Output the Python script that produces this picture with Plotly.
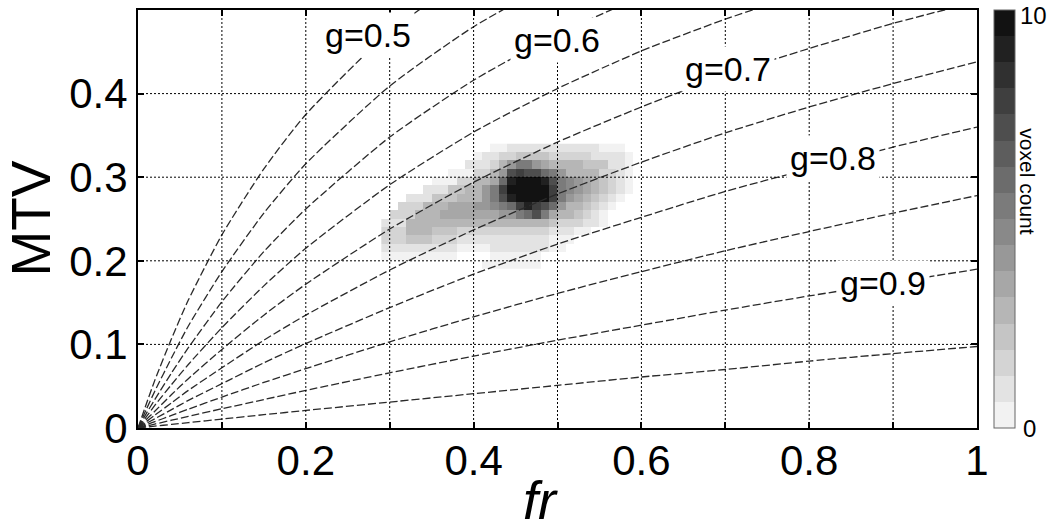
import plotly.graph_objects as go

# ---------------- data ----------------
# 2D histogram (voxel count), bins of 0.01 x 0.01
HIST_FR = [0.295, 0.305, 0.315, 0.325, 0.335, 0.345, 0.355, 0.365, 0.375, 0.385, 0.395,
           0.405, 0.415, 0.425, 0.435, 0.445, 0.455, 0.465, 0.475, 0.485, 0.495,
           0.505, 0.515, 0.525, 0.535, 0.545, 0.555, 0.565, 0.575, 0.585, 0.595]
HIST_MTV = [0.195, 0.205, 0.215, 0.225, 0.235, 0.245, 0.255, 0.265, 0.275, 0.285,
            0.295, 0.305, 0.315, 0.325, 0.335]
HIST_COUNT = [
    [0, 0, 0, 0, 0, 0, 0, 0, 0, 0, 0, 0, 0.2, 0.2, 0.2, 0.2, 0.2, 0.2, 0.2, 0, 0, 0, 0, 0, 0, 0, 0, 0, 0, 0, 0],
    [0.5, 0.5, 0.5, 0.5, 0.5, 0.5, 0.5, 0.5, 0.5, 0, 0, 0, 0, 0.4, 0.4, 0.4, 0.4, 0.4, 0.4, 0, 0, 0, 0, 0, 0, 0, 0, 0, 0, 0, 0],
    [1, 1, 1, 1, 1, 1, 0.7, 0.7, 0.7, 0.5, 0.5, 0.5, 0.5, 0.7, 0.7, 0.7, 0.7, 0.7, 0.7, 0.7, 0.3, 0.3, 0, 0, 0, 0, 0, 0, 0, 0, 0],
    [1.5, 1.5, 1.5, 2, 2, 2, 1.5, 1.5, 1.5, 1, 1, 1, 1, 1, 1, 1, 1, 1, 1, 1, 0.5, 0.5, 0.5, 0, 0, 0, 0, 0, 0, 0, 0],
    [1.5, 1.5, 1.5, 2.5, 2.5, 2.5, 2, 2, 2, 1.5, 1.5, 1.5, 1.5, 1.5, 1.5, 1.5, 1.5, 1.5, 1.5, 1.5, 1, 1, 1, 0.5, 0.5, 0, 0, 0, 0, 0, 0],
    [1, 1, 1, 2.5, 2.5, 2.5, 3, 3, 3, 3, 3, 3, 2.5, 2.5, 2.5, 2.5, 2.5, 2.5, 3, 2.5, 2, 1.5, 1.5, 1.5, 1, 1, 0.5, 0, 0, 0, 0],
    [0, 1.5, 1.5, 1.5, 3, 3, 3, 3.5, 3.5, 3.5, 3.5, 3.5, 3.5, 3.5, 4, 4, 5, 6, 7, 5, 3.5, 3, 2.5, 2, 1.5, 1, 0.5, 0, 0, 0, 0],
    [0, 0, 1.5, 1.5, 1.5, 2.5, 2.5, 2.5, 3.5, 3.5, 3.5, 4, 4, 4.5, 5, 6, 8, 9, 8, 7, 6, 4, 3, 2.5, 2, 1.5, 1, 0.5, 0, 0, 0],
    [0, 0, 0, 1, 1, 1, 2, 2, 2, 3, 3, 3, 4, 5, 7, 9, 10, 10, 10, 10, 8, 5, 4, 3.5, 3, 2, 1.5, 1, 0.5, 0, 0],
    [0, 0, 0, 0, 0, 1, 1, 1, 2, 2, 3, 3, 4, 5, 8, 10, 10, 10, 10, 10, 8, 5.5, 4.5, 4, 3.5, 2.5, 2, 1.5, 1, 0.5, 0],
    [0, 0, 0, 0, 0, 0, 0.5, 0.5, 0.5, 1.5, 1.5, 2.5, 2.5, 3.5, 6, 9, 10, 10, 10, 9, 7, 5.5, 4.5, 4, 3.5, 2.5, 2, 1.5, 1, 0.5, 0],
    [0, 0, 0, 0, 0, 0, 0, 0, 0.5, 0.5, 0.5, 1.5, 1.5, 2.5, 4, 7, 8, 7, 7, 6, 5, 4, 3, 3, 2.5, 2.5, 1.5, 1.5, 1, 0.5, 0],
    [0, 0, 0, 0, 0, 0, 0, 0, 0, 0, 1, 1, 1, 1.5, 2.5, 4, 5, 5, 4, 3.5, 3, 2.5, 2.5, 2.5, 2, 2, 2, 1, 1, 0.5, 0],
    [0, 0, 0, 0, 0, 0, 0, 0, 0, 0, 0, 0.5, 1, 1, 1.5, 1.5, 2, 2, 2, 2, 1.5, 1.5, 1.5, 1.5, 1.5, 1, 1, 1, 1, 0.5, 0],
    [0, 0, 0, 0, 0, 0, 0, 0, 0, 0, 0, 0, 0, 0.5, 0.5, 1, 1, 1, 1, 1, 1, 1, 1, 1, 1, 1, 0.5, 0.5, 0.5, 0, 0],
]

# iso g-ratio curves, MTV read at these fr positions
CURVE_FR = [0, 0.01, 0.02, 0.04, 0.06, 0.1, 0.15, 0.2, 0.3, 0.4, 0.5, 0.6, 0.7, 0.8, 0.9, 1.0]
MTV_G050 = [0, 0.029, 0.057, 0.107, 0.153, 0.231, 0.310, 0.375, 0.474, 0.545]
MTV_G055 = [0, 0.0225, 0.044, 0.084, 0.122, 0.187, 0.257, 0.316, 0.409, 0.480, 0.536]
MTV_G060 = [0, 0.0175, 0.034, 0.066, 0.096, 0.151, 0.211, 0.262, 0.348, 0.416, 0.471, 0.516]
MTV_G065 = [0, 0.0135, 0.027, 0.052, 0.076, 0.120, 0.170, 0.215, 0.291, 0.354, 0.406, 0.451, 0.489, 0.522]
MTV_G070 = [0, 0.0103, 0.020, 0.040, 0.059, 0.094, 0.135, 0.172, 0.238, 0.294, 0.342, 0.384, 0.422, 0.454, 0.484, 0.510]
MTV_G075 = [0, 0.0077, 0.0153, 0.030, 0.045, 0.072, 0.105, 0.135, 0.189, 0.237, 0.280, 0.318, 0.353, 0.384, 0.412, 0.438]
MTV_G080 = [0, 0.0056, 0.011, 0.022, 0.033, 0.053, 0.078, 0.101, 0.144, 0.184, 0.220, 0.252, 0.283, 0.310, 0.336, 0.360]
MTV_G085 = [0, 0.0038, 0.0076, 0.015, 0.0225, 0.037, 0.0545, 0.071, 0.103, 0.133, 0.161, 0.187, 0.212, 0.235, 0.257, 0.278]
MTV_G090 = [0, 0.0023, 0.0047, 0.0093, 0.0139, 0.023, 0.034, 0.045, 0.066, 0.086, 0.105, 0.123, 0.141, 0.158, 0.174, 0.190]
MTV_G095 = [0, 0.0011, 0.0022, 0.0043, 0.0064, 0.0107, 0.0159, 0.021, 0.031, 0.041, 0.051, 0.061, 0.070, 0.080, 0.089, 0.0975]
CURVES = [MTV_G050, MTV_G055, MTV_G060, MTV_G065, MTV_G070,
          MTV_G075, MTV_G080, MTV_G085, MTV_G090, MTV_G095]

LABEL_TEXT = ["g=0.5", "g=0.6", "g=0.7", "g=0.8", "g=0.9"]
LABEL_FR = [0.274, 0.499, 0.703, 0.828, 0.888]
LABEL_MTV = [0.470, 0.464, 0.430, 0.323, 0.174]

X_TICKS = [0, 0.2, 0.4, 0.6, 0.8, 1]
X_TICKTEXT = ["0", "0.2", "0.4", "0.6", "0.8", "1"]
Y_TICKS = [0, 0.1, 0.2, 0.3, 0.4]
Y_TICKTEXT = ["0", "0.1", "0.2", "0.3", "0.4"]
GRID_FR = [0.1, 0.2, 0.3, 0.4, 0.5, 0.6, 0.7, 0.8, 0.9]
GRID_MTV = [0.1, 0.2, 0.3, 0.4]
CBAR_MIN, CBAR_MAX = 0, 10

# ---------------- style ----------------
FONT = "Liberation Sans, Arial, Helvetica, sans-serif"
N_BANDS = 16
colorscale = []
for i in range(N_BANDS):
    v = int(round(242 - i * (242 - 18) / (N_BANDS - 1)))
    c = f"rgb({v},{v},{v})"
    colorscale.append([i / N_BANDS, c])
    colorscale.append([(i + 1) / N_BANDS, c])

z = [[(val if val > 0 else None) for val in row] for row in HIST_COUNT]

fig = go.Figure()
fig.add_trace(go.Heatmap(
    x=HIST_FR, y=HIST_MTV, z=z, zmin=CBAR_MIN, zmax=CBAR_MAX, colorscale=colorscale,
    zsmooth=False, hoverongaps=False,
    colorbar=dict(
        x=1.0203, xanchor="left", xpad=0, y=0.5, yanchor="middle",
        len=1.0, lenmode="fraction", ypad=0, thickness=21,
        outlinecolor="#666", outlinewidth=1,
        showticklabels=False, ticks="",
    ),
))

for mtv in CURVES:
    fig.add_trace(go.Scatter(
        x=CURVE_FR[:len(mtv)], y=mtv, mode="lines",
        line=dict(color="#2a2a2a", width=1.3, dash="8px,3px", shape="spline", smoothing=0.6),
        hoverinfo="skip", showlegend=False,
    ))

for v in GRID_FR:
    fig.add_shape(type="line", xref="x", yref="paper", x0=v, x1=v, y0=0, y1=1,
                  layer="above", line=dict(color="black", width=1, dash="2px,2px"))
for v in GRID_MTV:
    fig.add_shape(type="line", xref="paper", yref="y", x0=0, x1=1, y0=v, y1=v,
                  layer="above", line=dict(color="black", width=1, dash="2px,2px"))

for t, fx, my in zip(LABEL_TEXT, LABEL_FR, LABEL_MTV):
    fig.add_annotation(x=fx, y=my, xref="x", yref="y", text=t, showarrow=False,
                       xanchor="center", yanchor="middle",
                       font=dict(family=FONT, size=34, color="black"),
                       bgcolor="white", borderpad=3)

# axis titles and colorbar texts
fig.add_annotation(x=-0.128, y=0.5, xref="paper", yref="paper", text="MTV",
                   textangle=-90, showarrow=False, xanchor="center", yanchor="middle",
                   font=dict(family=FONT, size=55, color="black"))
fig.add_annotation(x=0.480, y=-0.172, xref="paper", yref="paper", text="<i>fr</i>",
                   showarrow=False, xanchor="center", yanchor="middle",
                   font=dict(family=FONT, size=54, color="black"))
fig.add_annotation(x=1.0608, y=0.59, xref="paper", yref="paper", text="voxel count",
                   textangle=90, showarrow=False, xanchor="center", yanchor="middle",
                   font=dict(family=FONT, size=21, color="black"))
fig.add_annotation(x=1.0490, y=1.0, xref="paper", yref="paper", text=str(CBAR_MAX),
                   showarrow=False, xanchor="left", yanchor="middle", yshift=-5,
                   font=dict(family=FONT, size=24, color="black"))
fig.add_annotation(x=1.0530, y=0.0, xref="paper", yref="paper", text=str(CBAR_MIN),
                   showarrow=False, xanchor="left", yanchor="middle",
                   font=dict(family=FONT, size=24, color="black"))

axis_common = dict(
    showline=True, linecolor="black", linewidth=2, mirror="ticks",
    ticks="inside", ticklen=6, tickwidth=1.5, tickcolor="black",
    showgrid=False, zeroline=False,
    tickfont=dict(family=FONT, size=42, color="black"),
)
fig.update_xaxes(range=[0, 1], tickvals=X_TICKS, ticktext=X_TICKTEXT,
                 minor=dict(dtick=0.1, ticks="inside", ticklen=6, tickcolor="black"),
                 ticklabelstandoff=-5, **axis_common)
fig.update_yaxes(range=[0, 0.5], tickvals=Y_TICKS, ticktext=Y_TICKTEXT,
                 ticklabelstandoff=0, **axis_common)

fig.update_layout(
    width=1050, height=529,
    margin=dict(l=138, r=73, t=8, b=101),
    paper_bgcolor="white", plot_bgcolor="white",
    showlegend=False,
    font=dict(family=FONT, color="black"),
)

fig.write_html("out.html", config={"displayModeBar": False},
               post_script="document.body.style.margin='0px';")
